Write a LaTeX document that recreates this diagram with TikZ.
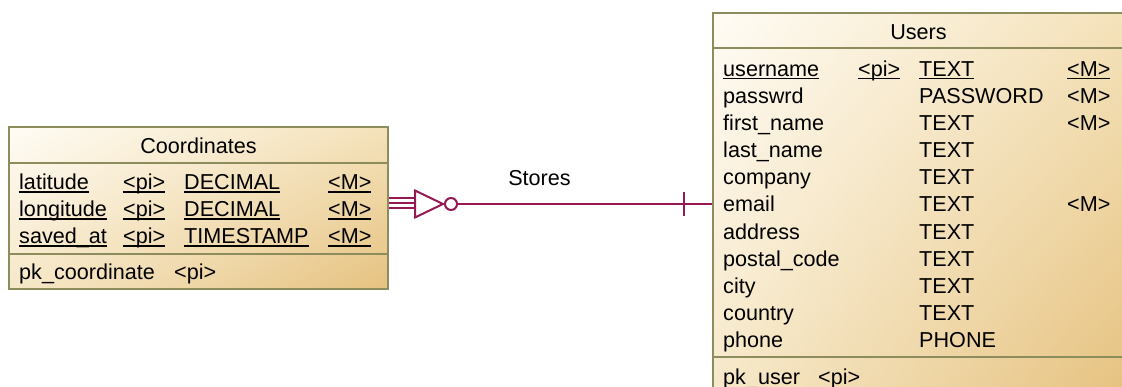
\documentclass[tikz,border=0pt]{standalone}
\usepackage{fontspec}
\setmainfont{Liberation Sans}
\usetikzlibrary{shadings,positioning}
\definecolor{entityline}{RGB}{140,140,92}
\definecolor{relcolor}{RGB}{150,25,85}
\definecolor{fillcream}{RGB}{255,252,245}
\definecolor{fillmidtop}{RGB}{244,226,186}
\definecolor{fillmidbot}{RGB}{246,232,200}
\definecolor{filltan}{RGB}{230,194,128}
% identifier underline, same height under every letter
\newcommand{\keyul}[1]{\setbox0\hbox{#1}\rlap{\rule[-2.6pt]{\wd0}{1.4pt}}\box0}

\begin{document}
\begin{tikzpicture}[
    x=1pt, y=-1pt,
    entity/.style={draw=entityline, line width=1.6pt, upper left=fillcream, upper right=fillmidtop, lower left=fillmidbot, lower right=filltan, inner sep=0pt},
    sepline/.style={draw=entityline, line width=1.6pt},
    attr/.style={anchor=base west, inner sep=0pt, font=\fontsize{21.6}{25}\selectfont},
    entitle/.style={anchor=base, inner sep=0pt, font=\fontsize{21.6}{25}\selectfont},
    rel/.style={draw=relcolor, line width=2pt}
]
\useasboundingbox (0,0) rectangle (1122,387);
\clip (0,0) rectangle (1122,387);

% Entities
\node[entity, minimum width=379pt, minimum height=162pt] (coords) at (198.5,208) {};
\node[entity, minimum width=411pt, minimum height=384pt] (users) at (918.5,205) {};

% Compartment lines
\draw[sepline] (coords.west |- 0,163) -- (coords.east |- 0,163);
\draw[sepline] (coords.west |- 0,254) -- (coords.east |- 0,254);
\draw[sepline] (users.west |- 0,48) -- (users.east |- 0,48);
\draw[sepline] (users.west |- 0,357) -- (users.east |- 0,357);

% Coordinates
\node[entitle] (ctitle) at (198.5,153.3) {Coordinates};
\node[attr] (lat) at (19,190) {\keyul{latitude}};
\node[attr] (latpi) at (123,190) {\keyul{<pi>}};
\node[attr] (lattype) at (184,190) {\keyul{DECIMAL}};
\node[attr] (latm) at (328,190) {\keyul{<M>}};
\node[attr] (lon) at (19,217) {\keyul{longitude}};
\node[attr] (lonpi) at (123,217) {\keyul{<pi>}};
\node[attr] (lontype) at (184,217) {\keyul{DECIMAL}};
\node[attr] (lonm) at (328,217) {\keyul{<M>}};
\node[attr] (saved) at (19,244) {\keyul{saved\_at}};
\node[attr] (savedpi) at (123,244) {\keyul{<pi>}};
\node[attr] (savedtype) at (184,244) {\keyul{TIMESTAMP}};
\node[attr] (savedm) at (328,244) {\keyul{<M>}};
\node[attr] (pkcoord) at (19,279.5) {pk\_coordinate};
\node[attr] (pkcoordpi) at (174,279.5) {<pi>};

% Users
\node[entitle] (utitle) at (918.5,40) {Users};
\node[attr] (uname) at (723,76.5) {\keyul{username}};
\node[attr] (unamepi) at (858,76.5) {\keyul{<pi>}};
\node[attr] (unametype) at (919,76.5) {\keyul{TEXT}};
\node[attr] (unamem) at (1067,76.5) {\keyul{<M>}};
\node[attr] (upass) at (723,103.6) {passwrd};
\node[attr] (upasstype) at (919,103.6) {PASSWORD};
\node[attr] (upassm) at (1067,103.6) {<M>};
\node[attr] (ufirst) at (723,130.7) {first\_name};
\node[attr] (ufirsttype) at (919,130.7) {TEXT};
\node[attr] (ufirstm) at (1067,130.7) {<M>};
\node[attr] (ulast) at (723,157.8) {last\_name};
\node[attr] (ulasttype) at (919,157.8) {TEXT};
\node[attr] (ucomp) at (723,184.9) {company};
\node[attr] (ucomptype) at (919,184.9) {TEXT};
\node[attr] (umail) at (723,212) {email};
\node[attr] (umailtype) at (919,212) {TEXT};
\node[attr] (umailm) at (1067,212) {<M>};
\node[attr] (uaddr) at (723,239.1) {address};
\node[attr] (uaddrtype) at (919,239.1) {TEXT};
\node[attr] (upost) at (723,266.2) {postal\_code};
\node[attr] (uposttype) at (919,266.2) {TEXT};
\node[attr] (ucity) at (723,293.3) {city};
\node[attr] (ucitytype) at (919,293.3) {TEXT};
\node[attr] (ucountry) at (723,320.4) {country};
\node[attr] (ucountrytype) at (919,320.4) {TEXT};
\node[attr] (uphone) at (723,347.5) {phone};
\node[attr] (uphonetype) at (919,347.5) {PHONE};
\node[attr] (pkuser) at (723,384) {pk\_user};
\node[attr] (pkuserpi) at (818,384) {<pi>};

% Relationship Stores (many, optional -- one)
\node[entitle] (stores) at (539.5,186) {Stores};
\coordinate (footbase) at (415,204);
\coordinate (footapex) at (443,204);
\draw[rel] (coords.east |- 0,198) -- (footbase |- 0,198);
\draw[rel] (coords.east |- 0,203) -- (footbase |- 0,203);
\draw[rel] (coords.east |- 0,208) -- (footbase |- 0,208);
\draw[rel] (footbase) ++(0,-13.5) -- (footapex) -- ++(-28,13.5) -- cycle;
\draw[rel] (451,204) circle (6);
\draw[rel] (457,204) -- (users.west |- footapex);
\draw[rel] (684,192) -- (684,216);

\end{tikzpicture}
\end{document}
